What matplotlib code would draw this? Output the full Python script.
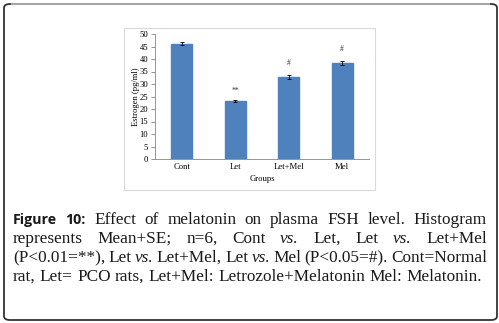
import matplotlib.pyplot as plt
from matplotlib.patches import FancyBboxPatch, Rectangle
import numpy as np

# data
groups = ['Cont', 'Let', 'Let+Mel', 'Mel']
means = [46.2, 23.2, 32.8, 38.4]
errors = [0.6, 0.3, 0.8, 0.8]
marks = ['', '**', '#', '#']

caption_lines = [
    [('Figure', 'b'), ('10:', 'b'), ('Effect', 'r'), ('of', 'r'), ('melatonin', 'r'), ('on', 'r'),
     ('plasma', 'r'), ('FSH', 'r'), ('level.', 'r'), ('Histogram', 'r')],
    [('represents', 'r'), ('Mean+SE;', 'r'), ('n=6,', 'r'), ('Cont', 'r'), ('vs.', 'i'), ('Let,', 'r'),
     ('Let', 'r'), ('vs.', 'i'), ('Let+Mel', 'r')],
    [('(P<0.01=**),', 'r'), ('Let', 'r'), ('vs.', 'i'), ('Let+Mel,', 'r'), ('Let', 'r'), ('vs.', 'i'),
     ('Mel', 'r'), ('(P<0.05=#).', 'r'), ('Cont=Normal', 'r')],
    [('rat,', 'r'), ('Let=', 'r'), ('PCO', 'r'), ('rats,', 'r'), ('Let+Mel:', 'r'),
     ('Letrozole+Melatonin', 'r'), ('Mel:', 'r'), ('Melatonin.', 'r')],
]

W, H = 499, 323
fig = plt.figure(figsize=(W / 100, H / 100), dpi=100)
fig.patch.set_facecolor('white')

# outer rounded frame
frame = FancyBboxPatch((4 / W, 3 / H), 493 / W, 316 / H,
                       boxstyle='round,pad=0,rounding_size=0.012',
                       transform=fig.transFigure, fill=False,
                       edgecolor='#333333', linewidth=1.3)
fig.patches.append(frame)
fig.add_artist(plt.Line2D([12 / W, 489 / W], [1 - 4 / H, 1 - 4 / H],
                          transform=fig.transFigure, color='#a6a6a6', lw=1.5))

# chart area border
fig.patches.append(Rectangle((124 / W, 1 - 190 / H), 251 / W, 162 / H,
                             transform=fig.transFigure, fill=False,
                             edgecolor='#d9d9d9', linewidth=0.8))

ax = fig.add_axes([155 / W, 1 - 159 / H, 214 / W, 125 / H])
x = np.arange(len(groups))
ax.bar(x, means, width=0.4, color='#4F81BD', edgecolor='#4F81BD', zorder=2)
ax.errorbar(x, means, yerr=errors, fmt='none', ecolor='black',
            elinewidth=0.6, capsize=1.5, capthick=0.6, zorder=3)
offs = [0, 2.0, 3.3, 3.3]
for xi, m, e, s, o in zip(x, means, errors, marks, offs):
    if s:
        ax.text(xi, m + e + o, s, ha='center', va='bottom',
                fontsize=5.5, family='Liberation Serif', color='#333333')

ax.set_xlim(-0.5, 3.5)
ax.set_ylim(0, 50)
ax.set_yticks(range(0, 51, 5))
ax.set_xticks(x)
ax.set_xticklabels(groups)
for s in ['top', 'right']:
    ax.spines[s].set_visible(False)
ax.spines['left'].set_color('#868686')
ax.spines['bottom'].set_color('#868686')
ax.spines['left'].set_linewidth(0.6)
ax.spines['bottom'].set_linewidth(0.6)
ax.tick_params(axis='y', length=3, width=0.6, color='#868686', pad=2,
               labelsize=6.2, labelfontfamily='Liberation Serif')
ax.tick_params(axis='x', length=0, pad=3, labelsize=6.2,
               labelfontfamily='Liberation Serif')
ax.set_ylabel('Estrogen (pg/ml)', fontsize=6.2, family='Liberation Serif')
ax.yaxis.set_label_coords(-0.072, 0.5)
ax.set_xlabel('Groups', fontsize=6.2, family='Liberation Serif', labelpad=3)

# justified caption
styles = {
    'r': dict(family='Liberation Serif', fontsize=12.4),
    'i': dict(family='Liberation Serif', fontsize=12.4, style='italic'),
    'b': dict(family='Open Sans', fontsize=10.3, weight='bold'),
}
left, right = 13, 487
baselines = [224, 243, 262, 281]
renderer = fig.canvas.get_renderer()
for li, (line, yb) in enumerate(zip(caption_lines, baselines)):
    texts = []
    for word, st in line:
        t = fig.text(0, 1 - yb / H, word, ha='left', va='baseline', color='#1a1a1a', **styles[st])
        texts.append(t)
    widths = [t.get_window_extent(renderer).width for t in texts]
    if li < len(caption_lines) - 1:
        gap = (right - left - sum(widths)) / (len(texts) - 1)
    else:
        gap = 4.2
    xp = left
    for t, w in zip(texts, widths):
        t.set_x(xp / W)
        xp += w + gap

fig.savefig('out.png', dpi=100)
